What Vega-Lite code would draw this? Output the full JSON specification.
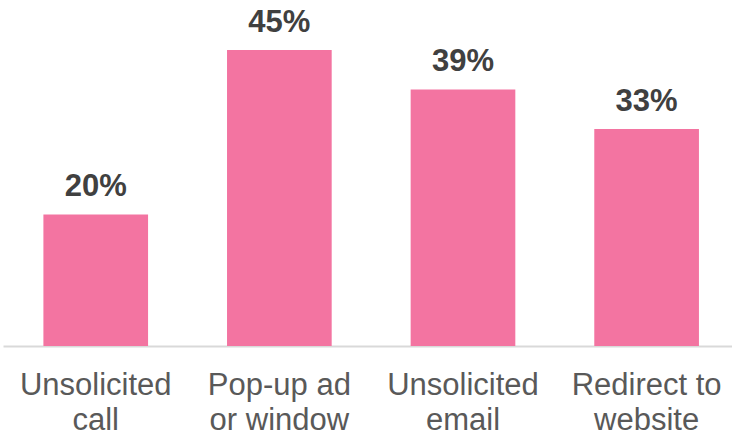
{
  "$schema": "https://vega.github.io/schema/vega-lite/v6.json",
  "width": 729,
  "height": 346,
  "padding": {"left": 3, "top": 0, "right": 0, "bottom": 0},
  "background": "white",
  "config": {"view": {"stroke": null}, "font": "Liberation Sans"},
  "data": {
    "values": [
      {"category": "Unsolicited|call", "value": 20, "label": "20%"},
      {"category": "Pop-up ad|or window", "value": 45, "label": "45%"},
      {"category": "Unsolicited|email", "value": 39, "label": "39%"},
      {"category": "Redirect to|website", "value": 33, "label": "33%"}
    ]
  },
  "encoding": {
    "x": {
      "field": "category",
      "type": "nominal",
      "sort": null,
      "scale": {"paddingInner": 0.43, "paddingOuter": 0.2, "align": 0.55},
      "axis": {
        "title": null,
        "labelAngle": 0,
        "ticks": false,
        "labelExpr": "split(datum.label, '|')",
        "labelFont": "Liberation Sans",
        "labelFontSize": 31,
        "labelColor": "#595959",
        "labelLineHeight": 35,
        "labelPadding": 24,
        "labelBaseline": "top",
        "domainColor": "#d9d9d9",
        "domainWidth": 2,
        "labelLimit": 300
      }
    },
    "y": {
      "field": "value",
      "type": "quantitative",
      "scale": {"domain": [0, 52.6], "nice": false, "zero": true},
      "axis": null
    }
  },
  "layer": [
    {"mark": {"type": "bar", "color": "#F374A1"}},
    {
      "mark": {"type": "text", "baseline": "alphabetic", "dy": -18, "fontSize": 31, "fontWeight": "bold", "color": "#404040", "font": "Liberation Sans"},
      "encoding": {"text": {"field": "label"}}
    }
  ]
}
